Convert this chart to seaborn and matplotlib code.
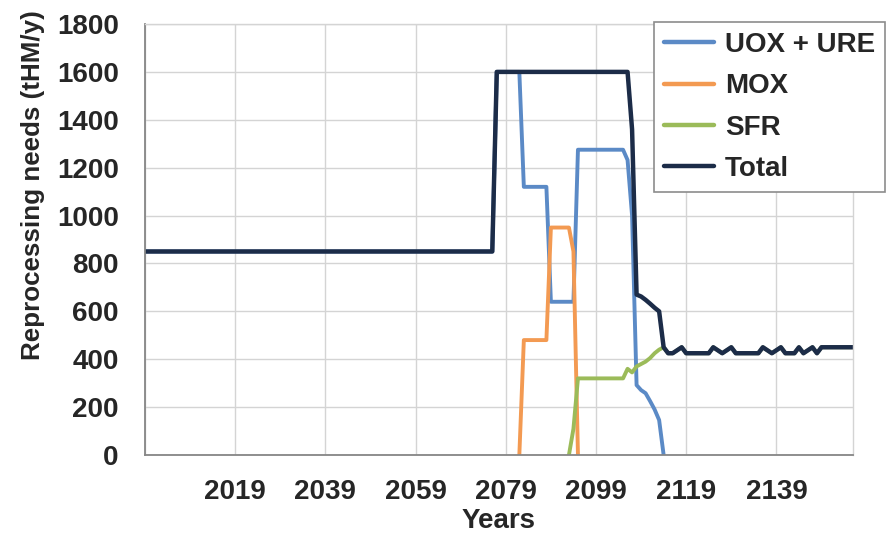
import matplotlib
matplotlib.use("Agg")
import matplotlib.pyplot as plt
import seaborn as sns
import pandas as pd

# Vertices of each series (year, tHM/y); straight segments join them
uox_years = [1999, 2076, 2077, 2082, 2083, 2088, 2089, 2094, 2095, 2105, 2106,
             2107, 2108, 2109, 2110, 2111, 2112, 2113, 2114]
uox_values = [850, 850, 1600, 1600, 1120, 1120, 640, 640, 1275, 1275, 1232,
              1000, 292, 271, 258, 225, 190, 146, 0]

mox_years = [2082, 2083, 2088, 2089, 2093, 2094, 2095]
mox_values = [0, 480, 480, 950, 950, 850, 0]

sfr_years = [2093, 2094, 2095, 2105, 2106, 2107, 2108, 2109, 2110, 2111, 2112,
             2113, 2114, 2115, 2116, 2118, 2119, 2124, 2125, 2127, 2129, 2130,
             2135, 2136, 2138, 2140, 2141, 2143, 2144, 2145, 2147, 2148, 2149, 2156]
sfr_values = [0, 110, 320, 320, 360, 345, 370, 380, 390, 405, 425,
              440, 450, 425, 425, 450, 425, 425, 450, 425, 450, 425,
              425, 450, 425, 450, 425, 425, 450, 425, 450, 425, 450, 450]

total_years = [1999, 2076, 2077, 2106, 2107, 2108, 2109, 2110, 2111, 2112, 2113,
               2114, 2115, 2116, 2118, 2119, 2124, 2125, 2127, 2129, 2130,
               2135, 2136, 2138, 2140, 2141, 2143, 2144, 2145, 2147, 2148, 2149, 2156]
total_values = [850, 850, 1600, 1600, 1360, 670, 662, 648, 632, 615, 600,
                450, 425, 425, 450, 425, 425, 450, 425, 450, 425,
                425, 450, 425, 450, 425, 425, 450, 425, 450, 425, 450, 450]

series_names = ["UOX + URE", "MOX", "SFR", "Total"]
series_colors = ["#5B8AC6", "#F39A52", "#9BBB59", "#1C2C48"]
series_widths = [2.8, 2.8, 2.8, 3.2]

year_ticks = [1999, 2019, 2039, 2059, 2079, 2099, 2119, 2139]
year_labels = ["", "2019", "2039", "2059", "2079", "2099", "2119", "2139"]
value_ticks = [0, 200, 400, 600, 800, 1000, 1200, 1400, 1600, 1800]

frames = []
for name, yrs, vals in zip(series_names,
                           [uox_years, mox_years, sfr_years, total_years],
                           [uox_values, mox_values, sfr_values, total_values]):
    frames.append(pd.DataFrame({"year": yrs, "value": vals, "series": name}))
df = pd.concat(frames, ignore_index=True)

sns.set_style("white")
plt.rcParams["font.family"] = ["Liberation Sans", "DejaVu Sans"]
plt.rcParams["font.weight"] = "bold"

FS = 20

fig = plt.figure(figsize=(8.86, 5.36), dpi=100)
ax = fig.add_axes([0.1637, 0.1511, 0.7991, 0.8041])

for name, color, lw in zip(series_names, series_colors, series_widths):
    sub = df[df["series"] == name]
    sns.lineplot(data=sub, x="year", y="value", color=color, lw=lw,
                 label=name, ax=ax, sort=True, errorbar=None)

ax.set_xlim(1999, 2156)
ax.set_ylim(0, 1800)
ax.set_xticks(year_ticks)
ax.set_xticklabels(year_labels)
ax.set_yticks(value_ticks)

grid_c = "#D4D4D4"
axis_c = "#868686"
ax.grid(True, color=grid_c, lw=1)
ax.set_axisbelow(True)
for side in ["left", "bottom"]:
    ax.spines[side].set_color(axis_c)
    ax.spines[side].set_linewidth(1.3)
for side in ["top", "right"]:
    ax.spines[side].set_color(grid_c)
    ax.spines[side].set_linewidth(1)

ax.tick_params(axis="both", direction="out", length=8, width=1, color=axis_c,
               labelsize=FS)
ax.tick_params(axis="y", pad=11)
ax.tick_params(axis="x", pad=9)
for lab in ax.get_xticklabels() + ax.get_yticklabels():
    lab.set_fontweight("bold")

ax.set_xlabel("Years", fontsize=FS, fontweight="bold")
ax.xaxis.set_label_coords(0.5, -0.152)
ax.xaxis.label.set_va("center")
ax.set_ylabel("Reprocessing needs (tHM/y)", fontsize=18.7, fontweight="bold")
ax.yaxis.set_label_coords(-0.158, 0.626)
ax.yaxis.label.set_va("center")

handles, labels = ax.get_legend_handles_labels()
leg = ax.legend(handles, labels, loc="upper right",
                bbox_to_anchor=(0.999, 0.959), bbox_transform=fig.transFigure,
                borderaxespad=0, prop={"weight": "bold", "size": FS},
                handlelength=1.8, handletextpad=0.4, labelspacing=0.55,
                borderpad=0.36, frameon=True, fancybox=False)
leg.get_frame().set_edgecolor("#8C8C8C")
leg.get_frame().set_linewidth(1.2)
leg.get_frame().set_facecolor("white")
leg.get_frame().set_alpha(1)
for line in leg.get_lines():
    line.set_linewidth(3.2)

fig.savefig("out.png", dpi=100, facecolor="white")
